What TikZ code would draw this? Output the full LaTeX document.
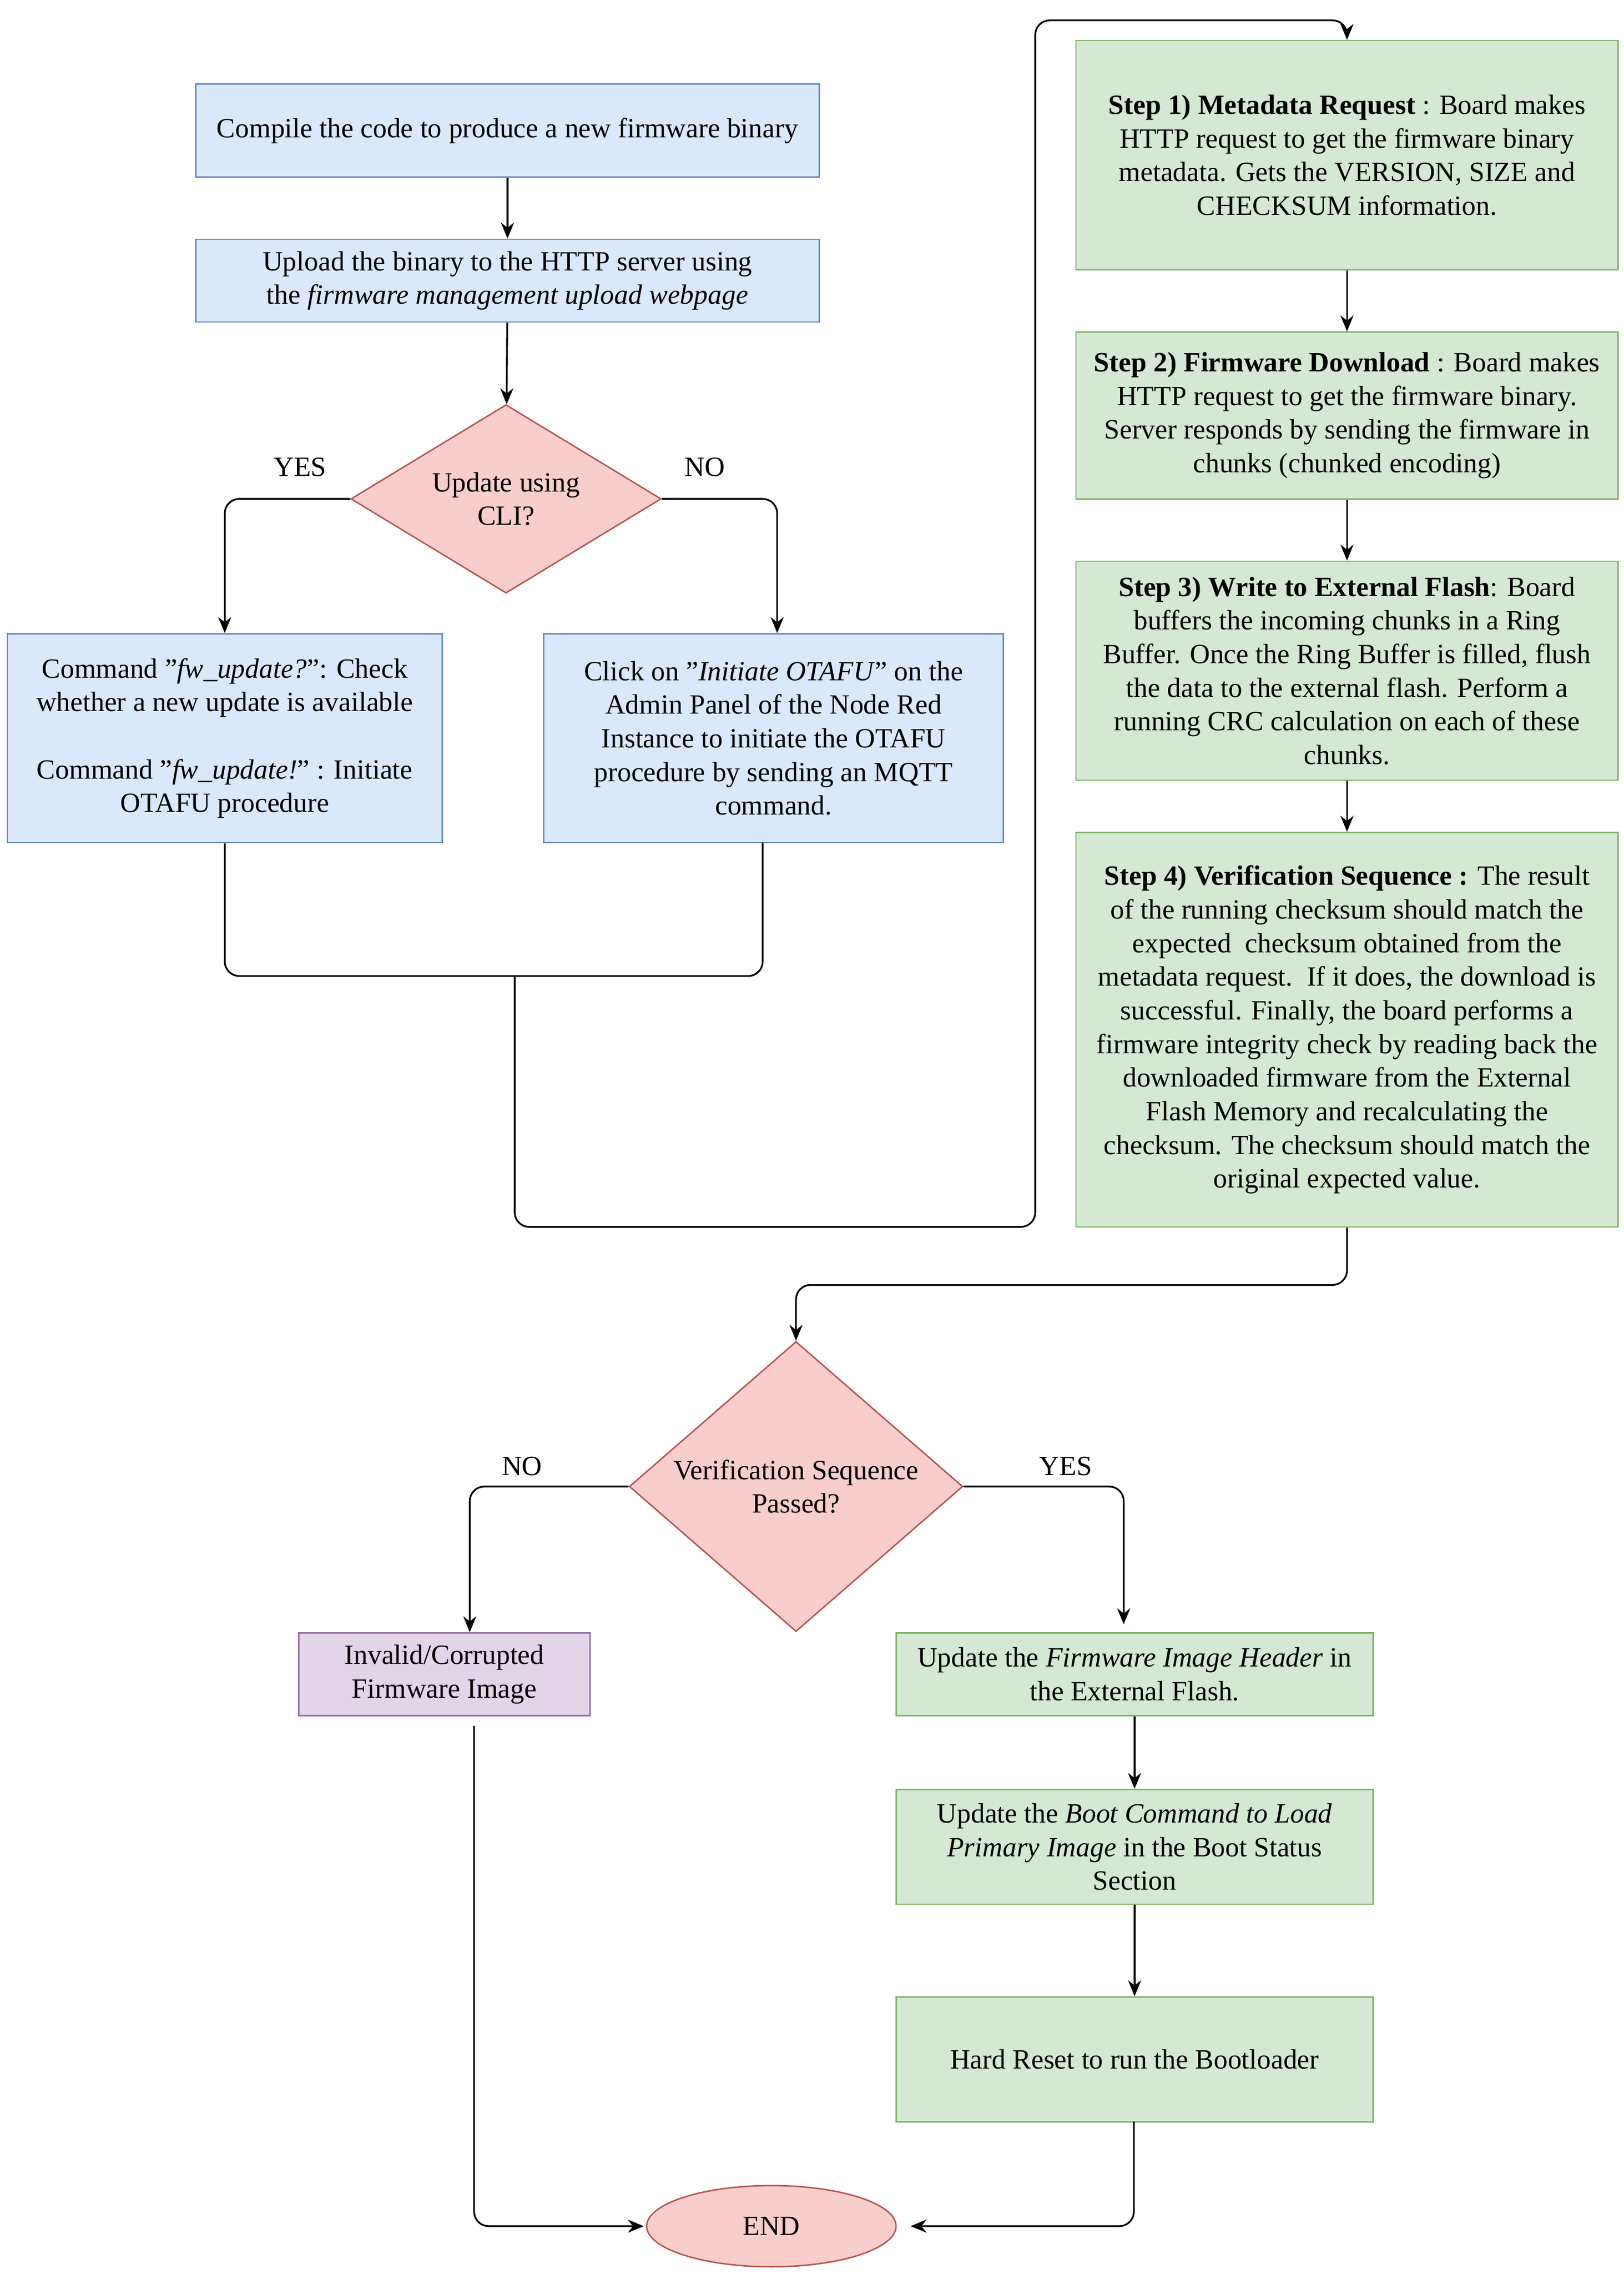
\documentclass[tikz,border=0pt]{standalone}
\usepackage{fontspec}
\setmainfont{Liberation Serif}
\usetikzlibrary{shapes.geometric,arrows.meta}
\definecolor{bfill}{HTML}{DAE8FC}\definecolor{bdraw}{HTML}{6C8EBF}
\definecolor{rfill}{HTML}{F8CECC}\definecolor{rdraw}{HTML}{B85450}
\definecolor{gfill}{HTML}{D5E8D4}\definecolor{gdraw}{HTML}{82B366}
\definecolor{pfill}{HTML}{E1D5E7}\definecolor{pdraw}{HTML}{9673A6}
\begin{document}
\begin{tikzpicture}[x=0.5pt,y=-0.5pt,
  every node/.style={font=\fontsize{9.6}{11.6}\selectfont,align=center,inner sep=1pt},
  box/.style={rectangle,draw,line width=0.5pt},
  blue/.style={box,fill=bfill,draw=bdraw},
  green/.style={box,fill=gfill,draw=gdraw},
  purp/.style={box,fill=pfill,draw=pdraw},
  dia/.style={diamond,draw=rdraw,fill=rfill,line width=0.5pt,aspect=1},
  conn/.style={line width=0.6pt,rounded corners=5pt},
  arr/.style={conn,-{Stealth[length=5.5pt,width=4.5pt]}},
  lab/.style={font=\fontsize{9.6}{11.6}\selectfont}]
\useasboundingbox (0,0) rectangle (1120,1568);
\node[blue,minimum width=430*0.5pt,minimum height=64*0.5pt] (compile) at (350,90) {Compile the code to produce a new firmware binary};
\node[blue,minimum width=430*0.5pt,minimum height=57*0.5pt] (upload) at (350,193.5) {Upload the binary to the HTTP server using\\the \textit{firmware management upload webpage}};
\node[dia,minimum width=214*0.5pt,minimum height=130*0.5pt,inner sep=0pt] (d1) at (349,344) {};
\node at (349,344) {Update using\\CLI?};
\node[blue,minimum width=300*0.5pt,minimum height=144*0.5pt] (cli) at (155,509) {Command "\textit{fw\_update?}": Check\\whether a new update is available\\[11.6pt]Command "\textit{fw\_update!}" : Initiate\\OTAFU procedure};
\node[blue,minimum width=317*0.5pt,minimum height=144*0.5pt] (ota) at (533.5,509) {Click on "\textit{Initiate OTAFU}" on the\\Admin Panel of the Node Red\\Instance to initiate the OTAFU\\procedure by sending an MQTT\\command.};
\node[green,minimum width=374*0.5pt,minimum height=158*0.5pt] (s1) at (929,107) {\textbf{Step 1) Metadata Request} : Board makes\\HTTP request to get the firmware binary\\metadata. Gets the VERSION, SIZE and\\CHECKSUM information.};
\node[green,minimum width=374*0.5pt,minimum height=115*0.5pt] (s2) at (929,286.5) {\textbf{Step 2) Firmware Download} : Board makes\\HTTP request to get the firmware binary.\\Server responds by sending the firmware in\\chunks (chunked encoding)};
\node[green,minimum width=374*0.5pt,minimum height=151*0.5pt] (s3) at (929,462.5) {\textbf{Step 3) Write to External Flash}: Board\\buffers the incoming chunks in a Ring\\Buffer. Once the Ring Buffer is filled, flush\\the data to the external flash. Perform a\\running CRC calculation on each of these\\chunks.};
\node[green,minimum width=374*0.5pt,minimum height=272*0.5pt] (s4) at (929,710) {\textbf{Step 4) Verification Sequence :} The result\\of the running checksum should match the\\expected\ \ checksum obtained from the\\metadata request.\ \ If it does, the download is\\successful. Finally, the board performs a\\firmware integrity check by reading back the\\downloaded firmware from the External\\Flash Memory and recalculating the\\checksum. The checksum should match the\\original expected value.};
\node[dia,minimum width=230*0.5pt,minimum height=200*0.5pt,inner sep=0pt] (d2) at (549,1025) {};
\node at (549,1025) {Verification Sequence\\Passed?};
\node[purp,minimum width=201*0.5pt,minimum height=57*0.5pt] (inv) at (306.5,1154.5) {Invalid/Corrupted\\Firmware Image};
\node[green,minimum width=329*0.5pt,minimum height=57*0.5pt] (hdr) at (782.5,1154.5) {Update the \textit{Firmware Image Header} in\\the External Flash.};
\node[green,minimum width=329*0.5pt,minimum height=79*0.5pt] (boot) at (782.5,1273.5) {Update the \textit{Boot Command to Load}\\\textit{Primary Image} in the Boot Status\\Section};
\node[green,minimum width=329*0.5pt,minimum height=86*0.5pt] (rst) at (782.5,1420) {Hard Reset to run the Bootloader};
\node[ellipse,draw=rdraw,fill=rfill,line width=0.5pt,minimum width=172*0.5pt,minimum height=56*0.5pt] (end) at (532,1535) {END};
\node[lab] at (207,322) {YES};
\node[lab] at (486,322) {NO};
\node[lab] at (360,1011) {NO};
\node[lab] at (735,1011) {YES};
\coordinate (ys) at (775,1120);
\coordinate (invb) at (327,1183);
\coordinate (otab) at (526,581);
\coordinate (rstb) at (782,1463);
\coordinate (endl) at (444,1535);
\coordinate (endr) at (628,1535);
\draw[arr] (compile) -- (upload);
\draw[arr] (upload) -- (d1);
\draw[arr] (d1.west) -| (cli.north);
\draw[arr] (d1.east) -| (ota.north -| 536,0);
\draw[conn] (cli.south) -- (155,673) -- (526,673) -- (otab);
\draw[arr] (355,673) -- (355,846) -- (714,846) -- (714,14) -- (929,14) -- (s1.north);
\draw[arr] (s1) -- (s2);
\draw[arr] (s2) -- (s3);
\draw[arr] (s3) -- (s4);
\draw[arr] (s4.south) -- (929,886) -- (549,886) -- (d2.north);
\draw[arr] (d2.west) -| (inv.north -| 324,0);
\draw[arr] (d2.east) -| (ys);
\draw[arr] (hdr) -- (boot);
\draw[arr] (boot) -- (rst);
\draw[arr] (327,1190) |- (endl);
\draw[arr] (rstb) |- (endr);
\end{tikzpicture}
\end{document}
